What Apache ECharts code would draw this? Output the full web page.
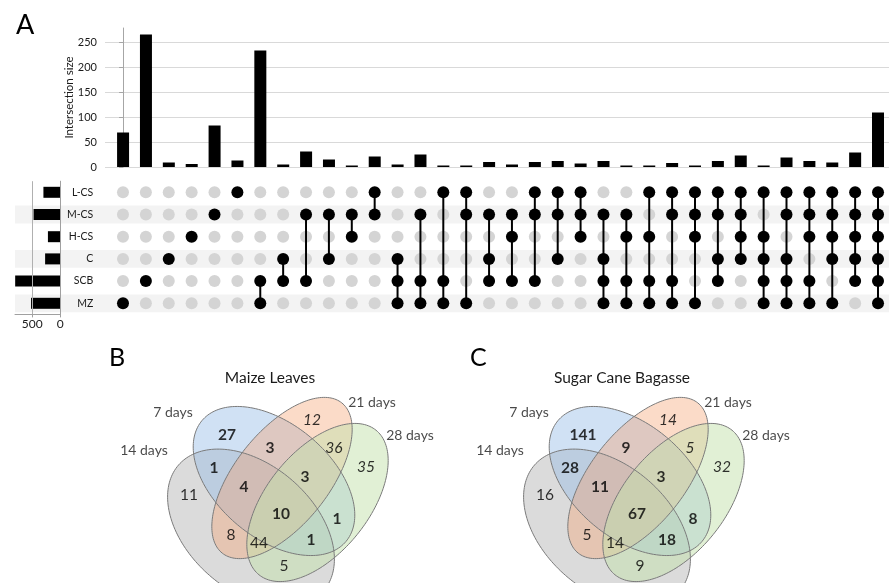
<!DOCTYPE html>
<html><head><meta charset="utf-8">
<script src="https://cdn.jsdelivr.net/npm/echarts@6/dist/echarts.min.js"></script>
<style>html,body{margin:0;padding:0;background:#fff}#c{width:889px;height:583px}</style>
</head><body><div id="c"></div><script>
// ---------- DATA ----------
const setNames = ['L-CS', 'M-CS', 'H-CS', 'C', 'SCB', 'MZ'];
const setSizes = [300, 475, 220, 270, 802, 520];
const setSizeTicks = [0, 500];
const intersectionTicks = [0, 50, 100, 150, 200, 250];
const intersectionSizes = [69, 265, 9, 6, 83, 13, 233, 5, 31, 15, 3, 21, 5, 25, 3, 3, 10, 5, 10, 12, 7, 12, 3, 3, 8, 3, 12, 23, 3, 19, 12, 9, 29, 109];
const intersectionSets = [
  ['MZ'], ['SCB'], ['C'], ['H-CS'], ['M-CS'], ['L-CS'],
  ['SCB', 'MZ'], ['C', 'SCB'], ['M-CS', 'SCB'], ['M-CS', 'C'], ['M-CS', 'H-CS'], ['L-CS', 'M-CS'],
  ['C', 'SCB', 'MZ'], ['M-CS', 'SCB', 'MZ'], ['L-CS', 'SCB', 'MZ'], ['L-CS', 'M-CS', 'MZ'],
  ['M-CS', 'C', 'SCB'], ['M-CS', 'H-CS', 'SCB'], ['L-CS', 'M-CS', 'SCB'], ['L-CS', 'M-CS', 'C'], ['L-CS', 'M-CS', 'H-CS'],
  ['M-CS', 'C', 'SCB', 'MZ'], ['M-CS', 'H-CS', 'SCB', 'MZ'], ['L-CS', 'H-CS', 'SCB', 'MZ'], ['L-CS', 'M-CS', 'SCB', 'MZ'],
  ['L-CS', 'M-CS', 'H-CS', 'MZ'], ['L-CS', 'M-CS', 'C', 'SCB'], ['L-CS', 'M-CS', 'H-CS', 'C'],
  ['L-CS', 'H-CS', 'C', 'SCB', 'MZ'], ['L-CS', 'M-CS', 'C', 'SCB', 'MZ'], ['L-CS', 'M-CS', 'H-CS', 'SCB', 'MZ'],
  ['L-CS', 'M-CS', 'H-CS', 'C', 'MZ'], ['L-CS', 'M-CS', 'H-CS', 'C', 'SCB'],
  ['L-CS', 'M-CS', 'H-CS', 'C', 'SCB', 'MZ']
];

const vennSetNames = ['7 days', '21 days', '28 days', '14 days'];
const vennRegions = ['7', '21', '28', '14', '7&21', '7&14', '21&28', '7&21&28', '7&14&21', '7&14&21&28', '7&28', '14&21', '14&21&28', '7&14&28', '14&28'];
const maizeCounts = [27, 12, 35, 11, 3, 1, 36, 3, 4, 10, 1, 8, 44, 1, 5];
const bagasseCounts = [141, 14, 32, 16, 9, 28, 5, 3, 11, 67, 8, 5, 14, 18, 9];
const vennTitles = ['Maize Leaves', 'Sugar Cane Bagasse'];

// ---------- LAYOUT (schematic geometry, local venn units) ----------
const FONT = 'Lato';
const TXT = '#1a1a1a';
const ellipseShapes = [
  { set: '14 days', c: [151, 188], a: 96, b: 63, rot: 41, fill: 'rgba(175,175,175,0.45)' },
  { set: '7 days', c: [174, 141], a: 94, b: 57, rot: 40, fill: 'rgba(150,188,230,0.45)' },
  { set: '21 days', c: [182, 138], a: 96, b: 47, rot: -51.5, fill: 'rgba(244,160,110,0.38)' },
  { set: '28 days', c: [217.5, 162.5], a: 93, b: 51, rot: -51, fill: 'rgba(196,226,172,0.5)' }
];
const regionPos = {
  '7': [127, 95], '21': [212, 80], '28': [266, 127], '14': [89, 155],
  '7&21': [170, 108], '7&14': [114, 128], '21&28': [234, 108], '7&21&28': [205, 137],
  '7&14&21': [144, 147], '7&14&21&28': [181, 174], '7&28': [237, 179], '14&21': [131, 195],
  '14&21&28': [159, 203], '7&14&28': [211, 200], '14&28': [184, 226]
};
const setLabelPos = { '7 days': [73, 72], '21 days': [272, 62], '28 days': [310, 95], '14 days': [44, 110] };

// ---------- BUILD ----------
const colMin = -0.79, colMax = 33.48;
const dotsOff = [], dotsOn = [], stems = [];
intersectionSets.forEach((sets, i) => {
  const rows = sets.map(s => setNames.indexOf(s));
  setNames.forEach((s, r) => {
    (rows.includes(r) ? dotsOn : dotsOff).push([i, r]);
  });
  if (rows.length > 1) stems.push([i, Math.min(...rows), Math.max(...rows)]);
});
const bands = [];
setNames.forEach((s, r) => { if (r % 2 === 1) bands.push([{ xAxis: -4.72, yAxis: r - 0.4 }, { xAxis: colMax, yAxis: r + 0.4 }]); });

function regionStyle(key) {
  const parts = key.split('&');
  if (parts.includes('7')) return 'b';
  if (parts.includes('14')) return 'n';
  return 'i';
}
function vennSeries(counts, gi) {
  const ellData = ellipseShapes.map(e => [e.c[0], e.c[1], e.a, e.b, e.rot]);
  const ellRender = (fillMode) => (params, api) => {
    const cx = api.value(0), cy = api.value(1), a = api.value(2), b = api.value(3);
    const t = api.value(4) * Math.PI / 180;
    const pts = [];
    for (let k = 0; k < 180; k++) {
      const p = k / 180 * Math.PI * 2;
      const x = cx + a * Math.cos(p) * Math.cos(t) - b * Math.sin(p) * Math.sin(t);
      const y = cy + a * Math.cos(p) * Math.sin(t) + b * Math.sin(p) * Math.cos(t);
      pts.push(api.coord([x, y]));
    }
    return {
      type: 'polygon', shape: { points: pts },
      style: fillMode ? { fill: ellipseShapes[params.dataIndex].fill, stroke: 'none' }
                      : { fill: 'none', stroke: '#7a7a7a', lineWidth: 1 }
    };
  };
  const labels = vennRegions.map((k, i) => ({ value: [regionPos[k][0], regionPos[k][1], counts[i]], st: regionStyle(k) }));
  const setLbls = vennSetNames.map(n => ({ value: [setLabelPos[n][0], setLabelPos[n][1]], name: n }));
  return [
    { type: 'custom', xAxisIndex: gi, yAxisIndex: gi, data: ellData, renderItem: ellRender(true), silent: true, z: 2 },
    { type: 'custom', xAxisIndex: gi, yAxisIndex: gi, data: ellData, renderItem: ellRender(false), silent: true, z: 3 },
    {
      type: 'scatter', xAxisIndex: gi, yAxisIndex: gi, data: labels, symbolSize: 2, itemStyle: { color: 'rgba(0,0,0,0)' }, z: 4, silent: true,
      labelLayout: { hideOverlap: false },
      label: {
        show: true, position: 'inside', formatter: p => `{${p.data.st}|${p.data.value[2]}}`,
        rich: {
          b: { fontFamily: FONT, fontSize: 15.5, fontWeight: 'bold', color: '#000' },
          i: { fontFamily: FONT, fontSize: 15.5, fontStyle: 'italic', color: '#000' },
          n: { fontFamily: FONT, fontSize: 15.5, color: '#000' }
        }
      }
    },
    {
      type: 'scatter', xAxisIndex: gi, yAxisIndex: gi, data: setLbls, symbolSize: 2, itemStyle: { color: 'rgba(0,0,0,0)' }, z: 4, silent: true,
      label: { show: true, position: 'inside', formatter: p => p.name, fontFamily: FONT, fontSize: 14, color: TXT }
    }
  ];
}

const vennAxisX = gi => ({ type: 'value', gridIndex: gi, min: 0, max: 340, show: false });
const vennAxisY = gi => ({ type: 'value', gridIndex: gi, min: 0, max: 243, inverse: true, show: false });

const option = {
  animation: false,
  textStyle: { fontFamily: FONT },
  title: [
    { text: 'A', left: 11, top: 7, textStyle: { fontFamily: FONT, fontSize: 27, fontWeight: 'normal', color: '#000' } },
    { text: 'B', left: 104, top: 340, textStyle: { fontFamily: FONT, fontSize: 25, fontWeight: 'normal', color: '#000' } },
    { text: 'C', left: 465, top: 340, textStyle: { fontFamily: FONT, fontSize: 25, fontWeight: 'normal', color: '#000' } },
    { text: vennTitles[0], left: 265, textAlign: 'center', top: 365, textStyle: { fontFamily: FONT, fontSize: 15.5, fontWeight: 'normal', color: TXT } },
    { text: vennTitles[1], left: 617, textAlign: 'center', top: 365, textStyle: { fontFamily: FONT, fontSize: 15.5, fontWeight: 'normal', color: TXT } }
  ],
  grid: [
    { left: 105, top: 28, width: 784, height: 139 },
    { left: 15, top: 181.2, width: 874, height: 133.2 },
    { left: 15, top: 181.2, width: 45.3, height: 133.2 },
    { left: 100, top: 340, width: 340, height: 243 },
    { left: 456, top: 340, width: 340, height: 243 }
  ],
  xAxis: [
    { type: 'value', gridIndex: 0, min: colMin, max: colMax, show: false },
    { type: 'value', gridIndex: 1, min: -4.72, max: colMax, show: false },
    {
      type: 'value', gridIndex: 2, inverse: true, min: setSizeTicks[0], max: 805, interval: setSizeTicks[1] - setSizeTicks[0], z: 10,
      axisLine: { show: true, lineStyle: { color: '#a0a0a0' } },
      axisTick: { show: true, length: 3, lineStyle: { color: '#a0a0a0' } },
      axisLabel: { showMaxLabel: false, margin: 4, fontFamily: FONT, fontSize: 12, color: TXT },
      splitLine: { show: true, showMinLine: false, showMaxLine: false, lineStyle: { color: '#b0b0b0' } }
    },
    vennAxisX(3), vennAxisX(4)
  ],
  yAxis: [
    {
      type: 'value', gridIndex: 0, min: intersectionTicks[0], max: 278, interval: intersectionTicks[1] - intersectionTicks[0],
      name: 'Intersection size', nameLocation: 'middle', nameGap: 30, nameMoveOverlap: false,
      nameTextStyle: { fontFamily: FONT, fontSize: 11.5, color: TXT },
      axisLine: { show: true, lineStyle: { color: '#a6a6a6' } },
      axisTick: { show: true, length: 4, lineStyle: { color: '#a6a6a6' } },
      axisLabel: { showMaxLabel: false, margin: 8, fontFamily: FONT, fontSize: 11, color: TXT },
      splitLine: { show: true, showMaxLine: false, lineStyle: { color: '#d9d9d9', width: 1 } }
    },
    { type: 'value', gridIndex: 1, min: -0.5, max: 5.5, inverse: true, show: false },
    {
      type: 'category', gridIndex: 2, data: setNames, inverse: true, position: 'right', z: 10,
      axisLine: { show: true, lineStyle: { color: '#a0a0a0' } },
      axisTick: { show: false },
      axisLabel: { interval: 0, align: 'right', margin: 33, fontFamily: FONT, fontSize: 10.5, color: TXT }
    },
    vennAxisY(3), vennAxisY(4)
  ],
  series: [
    {
      type: 'bar', xAxisIndex: 0, yAxisIndex: 0, barWidth: 12,
      data: intersectionSizes.map((v, i) => [i, v]), itemStyle: { color: '#000' }, silent: true
    },
    {
      type: 'scatter', xAxisIndex: 1, yAxisIndex: 1, data: [[0, 0]], symbolSize: 0, silent: true, z: -1,
      markArea: { silent: true, itemStyle: { color: '#f3f3f3' }, data: bands }
    },
    {
      type: 'scatter', xAxisIndex: 1, yAxisIndex: 1, data: dotsOff, symbolSize: 12,
      itemStyle: { color: '#d4d4d4', opacity: 1 }, silent: true, z: 3
    },
    {
      type: 'custom', xAxisIndex: 1, yAxisIndex: 1, data: stems, encode: { x: 0, y: [1, 2] }, silent: true, z: 4,
      renderItem: (params, api) => {
        const p1 = api.coord([api.value(0), api.value(1)]);
        const p2 = api.coord([api.value(0), api.value(2)]);
        return { type: 'line', shape: { x1: p1[0], y1: p1[1], x2: p2[0], y2: p2[1] }, style: { stroke: '#000', lineWidth: 2 } };
      }
    },
    {
      type: 'scatter', xAxisIndex: 1, yAxisIndex: 1, data: dotsOn, symbolSize: 12,
      itemStyle: { color: '#000', opacity: 1 }, silent: true, z: 5
    },
    {
      type: 'bar', xAxisIndex: 2, yAxisIndex: 2, data: setSizes, barWidth: 11,
      itemStyle: { color: '#000' }, silent: true, z: 6
    },
    ...vennSeries(maizeCounts, 3),
    ...vennSeries(bagasseCounts, 4)
  ]
};
const chart = echarts.init(document.getElementById('c'), null, { renderer: 'canvas' });
chart.setOption(option);
</script></body></html>
